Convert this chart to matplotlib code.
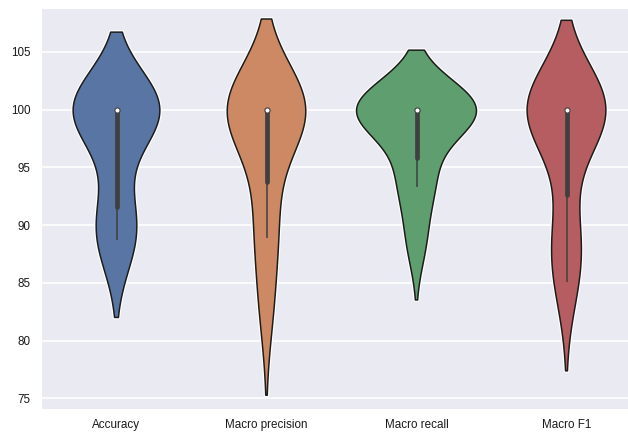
import numpy as np
import pandas as pd
import matplotlib
matplotlib.use("Agg")
import matplotlib.pyplot as plt
import matplotlib.patheffects as pe
import seaborn as sns

# ---- data ----
categories = ["Accuracy", "Macro precision", "Macro recall", "Macro F1"]
accuracy = [88.7, 88.9, 91.6, 100, 100, 100, 100, 100, 100]
macro_precision = [83.1, 88.9, 91.6, 100, 100, 100, 100, 100, 100, 100]
macro_recall = [88.65, 93.3, 94.4, 100, 100, 100, 100, 100, 100, 100]
macro_f1 = [85.1, 87.5, 90.1, 100, 100, 100, 100, 100, 100, 100]
y_ticks = [75, 80, 85, 90, 95, 100, 105]

series = [accuracy, macro_precision, macro_recall, macro_f1]

sns.set_theme(style="darkgrid", palette="deep")
plt.rcParams["font.family"] = ["Liberation Sans", "DejaVu Sans"]

df = pd.DataFrame({
    "metric": np.repeat(categories, [len(s) for s in series]),
    "value": np.concatenate([np.asarray(s, float) for s in series]),
})

W, H = 628, 433
fig = plt.figure(figsize=(W / 100, H / 100), dpi=100)
ax = fig.add_axes([41.5 / W, (H - 409.3) / H, 600 / W, (409.3 - 9) / H])

edge = "#1c1c1c"
inner_col = "#3f3f3f"
kws = dict(data=df, x="metric", y="value", order=categories, inner=None,
           cut=2, saturation=0.75, linewidth=1.1, ax=ax)
try:
    sns.violinplot(**kws, hue="metric", hue_order=categories, palette="deep",
                   legend=False, density_norm="area", common_norm=True,
                   linecolor=edge)
except TypeError:
    sns.violinplot(**kws, palette="deep", scale="area")

for coll in ax.collections:
    coll.set_edgecolor(edge)
    coll.set_linewidth(1.1)
    coll.set_path_effects([pe.Stroke(linewidth=2.8, foreground="white"), pe.Normal()])

# inner box (quartiles, whiskers, median)
for i, vals in enumerate(series):
    v = np.asarray(vals, float)
    q1, med, q3 = np.percentile(v, [25, 50, 75])
    lim = 1.5 * (q3 - q1)
    lo = v[v >= q1 - lim].min()
    hi = v[v <= q3 + lim].max()
    ax.plot([i, i], [lo, hi], lw=1.1, color=inner_col, solid_capstyle="butt", zorder=3)
    ax.plot([i, i], [q1, q3], lw=3.4, color=inner_col, solid_capstyle="round", zorder=3)
    ax.scatter([i], [med], s=14, color="white", edgecolor=inner_col, linewidth=0.8, zorder=4)

ax.set_xlim(-0.5, 3.5)
ax.set_ylim(74.05, 108.7)
ax.set_yticks(y_ticks)
ax.set_xlabel("")
ax.set_ylabel("")
ax.xaxis.grid(False)
ax.yaxis.grid(True, color="white", linewidth=1.2)
ax.tick_params(axis="both", labelsize=8.4, length=0, colors="#1a1a1a")
ax.tick_params(axis="y", pad=7.8)
ax.tick_params(axis="x", pad=7.0)
for s in ax.spines.values():
    s.set_visible(False)

fig.savefig("out.png", dpi=100)
